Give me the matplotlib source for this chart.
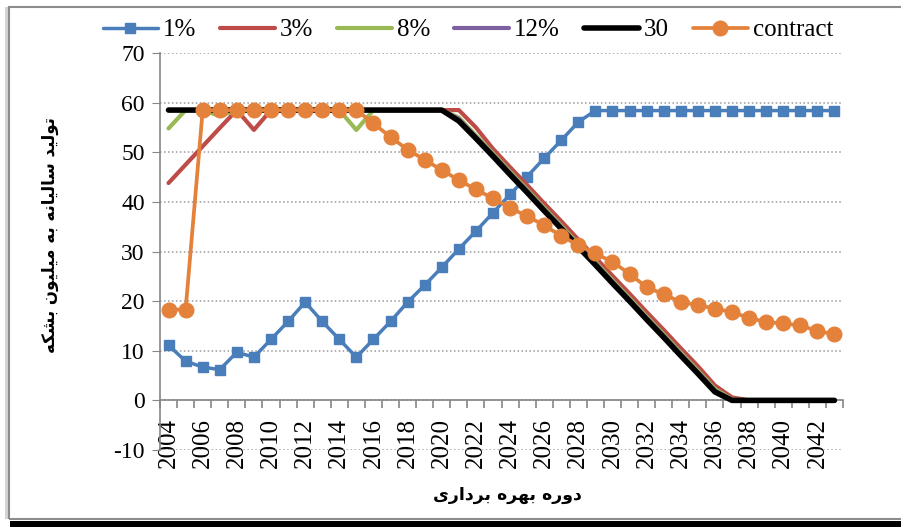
#!/usr/bin/env python3
"""
Annual production (million barrels) per operating year, by scenario
Rebuild of an Excel line chart: 1%, 3%, 8%, 12%, 30 and the contract profile.
    python plot.py
"""

import matplotlib
matplotlib.use("Agg")
import matplotlib.pyplot as plt
from matplotlib.patches import Rectangle
from matplotlib.ticker import FixedLocator

# --- data (million barrels / yr) ---
YEARS = list(range(2004, 2044))

P1 = [11.1, 7.9, 6.7, 6.2, 9.7, 8.7, 12.3, 15.9, 19.8, 15.9,
      12.3, 8.7, 12.3, 15.9, 19.8, 23.2, 26.8, 30.5, 34.1, 37.8,
      41.5, 45.1, 48.8, 52.4, 56.1, 58.4, 58.4, 58.4, 58.4, 58.4,
      58.4, 58.4, 58.4, 58.4, 58.4, 58.4, 58.4, 58.4, 58.4, 58.4]

P3 = [43.8, 47.5, 51.2, 54.9, 58.5, 54.5, 58.5, 58.5, 58.5, 58.5,
      58.5, 58.5, 58.5, 58.5, 58.5, 58.5, 58.5, 58.5, 55.0, 50.7,
      47.0, 43.4, 39.7, 36.1, 32.4, 28.8, 25.1, 21.5, 17.8, 14.2,
      10.5, 6.9, 3.0, 0.6, 0.0, 0.0, 0.0, 0.0, 0.0, 0.0]

P8 = [54.8, 58.5, 58.5, 57.3, 58.5, 58.5, 58.5, 58.5, 58.5, 58.5,
      58.5, 54.5, 58.5, 58.5, 58.5, 58.5, 58.5, 57.0, 53.4, 49.8,
      46.1, 42.5, 38.8, 35.2, 31.5, 27.9, 24.2, 20.6, 16.9, 13.3,
      9.6, 6.0, 2.3, 0.2, 0.0, 0.0, 0.0, 0.0, 0.0, 0.0]

P12 = [58.5, 58.5, 58.5, 58.5, 58.5, 58.5, 58.5, 58.5, 58.5, 58.5,
       58.5, 58.5, 58.5, 58.5, 58.5, 58.5, 58.5, 56.7, 53.1, 49.5,
       45.8, 42.2, 38.5, 34.9, 31.2, 27.6, 23.9, 20.3, 16.6, 13.0,
       9.3, 5.7, 2.0, 0.0, 0.0, 0.0, 0.0, 0.0, 0.0, 0.0]

P30 = [58.5, 58.5, 58.5, 58.5, 58.5, 58.5, 58.5, 58.5, 58.5, 58.5,
       58.5, 58.5, 58.5, 58.5, 58.5, 58.5, 58.5, 56.3, 52.8, 49.2,
       45.5, 41.9, 38.2, 34.6, 30.9, 27.3, 23.6, 20.0, 16.3, 12.7,
       9.0, 5.4, 1.7, 0.0, 0.0, 0.0, 0.0, 0.0, 0.0, 0.0]

CONTRACT = [18.3, 18.3, 58.5, 58.5, 58.5, 58.5, 58.5, 58.5, 58.5, 58.5,
            58.5, 58.5, 55.8, 53.1, 50.5, 48.5, 46.4, 44.4, 42.5, 40.7,
            38.8, 37.1, 35.3, 33.1, 31.3, 29.6, 27.9, 25.5, 22.8, 21.4,
            19.8, 19.2, 18.5, 17.8, 16.6, 15.8, 15.5, 15.1, 14.0, 13.3]

YTICKS = [-10, 0, 10, 20, 30, 40, 50, 60, 70]
XLABEL = "دوره بهره برداری"
YLABEL = "تولید سالیانه به میلیون بشکه"

GRAY = "#868686"
SERIF = "Liberation Serif"

# (label, values, colour, line width, marker, marker size)
SERIES = [
    ("1%",       P1,       "#4A7EBB", 2.5, "s", 7.5),
    ("3%",       P3,       "#BE4B48", 3.0, None, 0),
    ("8%",       P8,       "#98B954", 3.0, None, 0),
    ("12%",      P12,      "#7D60A0", 3.0, None, 0),
    ("30",       P30,      "#000000", 4.0, None, 0),
    ("contract", CONTRACT, "#E4813A", 2.7, "o", 10.5),
]

# --- tiny Persian shaper: matplotlib does no joining / RTL by itself ---
# letter -> (isolated, final, initial, medial) presentation forms
FORMS = {
    "ا": ("\uFE8D", "\uFE8E", None, None),
    "ب": ("\uFE8F", "\uFE90", "\uFE91", "\uFE92"),
    "ت": ("\uFE95", "\uFE96", "\uFE97", "\uFE98"),
    "د": ("\uFEA9", "\uFEAA", None, None),
    "ر": ("\uFEAD", "\uFEAE", None, None),
    "س": ("\uFEB1", "\uFEB2", "\uFEB3", "\uFEB4"),
    "ش": ("\uFEB5", "\uFEB6", "\uFEB7", "\uFEB8"),
    "ل": ("\uFEDD", "\uFEDE", "\uFEDF", "\uFEE0"),
    "م": ("\uFEE1", "\uFEE2", "\uFEE3", "\uFEE4"),
    "ن": ("\uFEE5", "\uFEE6", "\uFEE7", "\uFEE8"),
    "ه": ("\uFEE9", "\uFEEA", "\uFEEB", "\uFEEC"),
    "و": ("\uFEED", "\uFEEE", None, None),
    "ی": ("\uFEEF", "\uFEF0", "\uFEF3", "\uFEF4"),
    "ک": ("\uFED9", "\uFEDA", "\uFEDB", "\uFEDC"),
}


def shape(text):
    out = []
    for word in text.split(" "):
        glyphs = []
        for i, ch in enumerate(word):
            f = FORMS[ch]
            prev = i > 0 and FORMS[word[i - 1]][2] is not None
            nxt = i < len(word) - 1 and f[2] is not None
            if prev and nxt:
                g = f[3]
            elif nxt:
                g = f[2]
            elif prev:
                g = f[1]
            else:
                g = f[0]
            glyphs.append(g)
        out.append("".join(glyphs))
    return " ".join(out)[::-1]


def main():
    plt.rcParams["axes.unicode_minus"] = False
    fig = plt.figure(figsize=(9.01, 5.27), dpi=100)
    ax = fig.add_axes([160 / 901, 77 / 527, 683 / 901, 397 / 527])

    handles = []
    for z, (label, vals, color, lw, marker, ms) in enumerate(SERIES):
        h, = ax.plot(YEARS, vals, color=color, lw=lw, marker=marker, ms=ms,
                     mec=color, mfc=color, solid_joinstyle="round",
                     solid_capstyle="round", zorder=3 + z, label=label,
                     clip_on=False)
        handles.append(h)

    ax.set_xlim(2003.5, 2043.5)
    ax.set_ylim(-10, 70)

    for s in ("top", "right"):
        ax.spines[s].set_visible(False)
    ax.spines["bottom"].set_position(("data", 0))
    for s in ("left", "bottom"):
        ax.spines[s].set_color(GRAY)
        ax.spines[s].set_linewidth(1.2)

    ax.set_yticks(YTICKS)
    ax.yaxis.grid(True, color="#9a9a9a", ls=(0, (1, 1.6)), lw=1.1)
    ax.set_axisbelow(True)
    ax.tick_params(axis="y", direction="out", length=6, color=GRAY,
                   labelsize=17, pad=5)

    ax.set_xticks(YEARS[::2])
    ax.xaxis.set_minor_locator(FixedLocator([y - 0.5 for y in YEARS] + [YEARS[-1] + 0.5]))
    ax.tick_params(axis="x", which="major", length=0, pad=13,
                   labelsize=18, labelrotation=90)
    ax.tick_params(axis="x", which="minor", direction="out", length=6,
                   color=GRAY, width=1.2)
    for t in ax.get_xticklabels() + ax.get_yticklabels():
        t.set_family(SERIF)

    fig.legend(handles, [h.get_label() for h in handles], loc="center",
               bbox_to_anchor=(468 / 901, 1 - 30 / 527), ncol=6,
               frameon=False, numpoints=1, handlelength=2.2,
               handletextpad=0.2, columnspacing=0.95,
               prop={"family": SERIF, "size": 18})

    fig.text(50 / 901, 1 - 235 / 527, shape(YLABEL), rotation=90,
             ha="center", va="center", fontsize=12, fontweight="bold",
             family="DejaVu Sans")
    fig.text(507 / 901, 1 - 495 / 527, shape(XLABEL), ha="center",
             va="center", fontsize=12.5, fontweight="bold",
             family="DejaVu Sans")

    # chart-area frame with the Excel-style shadow
    fig.add_artist(Rectangle((5 / 901, 8 / 527), 3 / 901, 512 / 527,
                             transform=fig.transFigure, fc="#d4d4d4",
                             ec="none"))
    fig.add_artist(Rectangle((9 / 901, 8 / 527), 1.0, 512 / 527,
                             transform=fig.transFigure, fill=False,
                             ec="#8c8c8c", lw=1.5))
    fig.add_artist(Rectangle((10 / 901, 0), 1.0, 6 / 527,
                             transform=fig.transFigure, fc="black",
                             ec="none"))

    fig.savefig("out.png", dpi=100)


if __name__ == "__main__":
    main()
